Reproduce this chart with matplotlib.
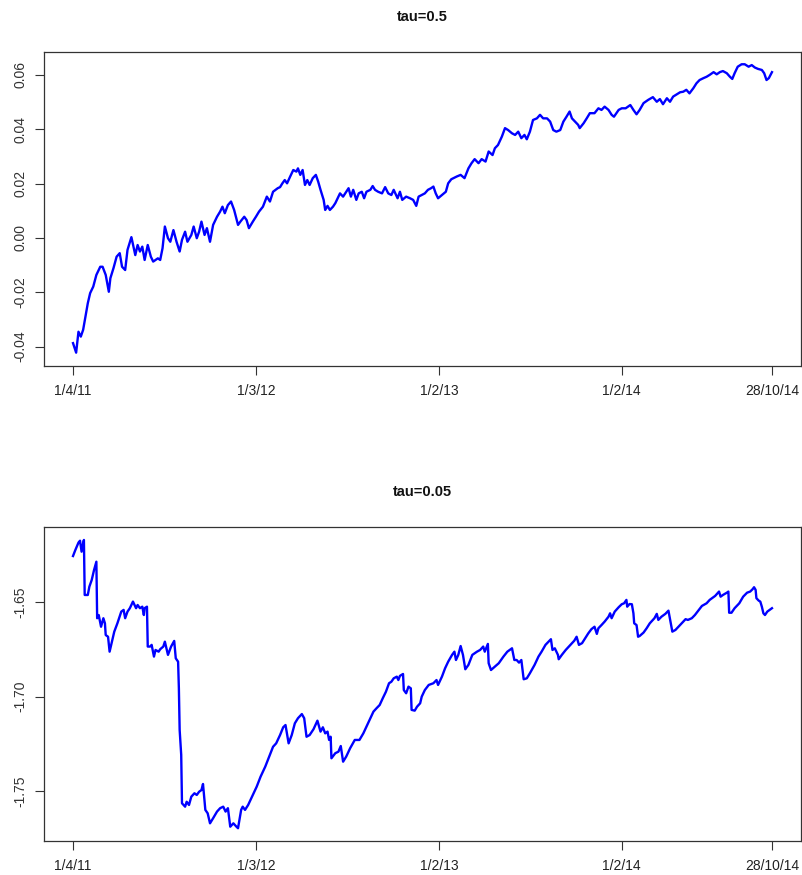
import matplotlib
matplotlib.use("Agg")
import matplotlib.pyplot as plt

plt.rcParams['font.family'] = ['Liberation Sans', 'DejaVu Sans']

# ---- data (trading-day index, value) ----
tick_idx = [0, 235, 470, 705, 898]
tick_labels = ["1/4/11", "1/3/12", "1/2/13", "1/2/14", "28/10/14"]

top_title = "tau=0.5"
top_yticks = [-0.04, -0.02, 0.00, 0.02, 0.04, 0.06]
top_ylabels = ["-0.04", "-0.02", "0.00", "0.02", "0.04", "0.06"]

top_idx = [
    0, 4, 7, 10, 13, 16, 19, 22, 26, 30,
    35, 38, 42, 46, 48, 52, 56, 60, 63, 67,
    70, 75, 80, 83, 86, 89, 92, 96, 100, 103,
    109, 112, 115, 118, 122, 125, 129, 133, 137, 140,
    144, 147, 152, 155, 159, 162, 165, 169, 172, 176,
    180, 185, 189, 192, 195, 199, 203, 207, 212, 215,
    220, 223, 226, 231, 235, 239, 244, 249, 253, 257,
    263, 266, 269, 272, 275, 279, 283, 287, 289, 292,
    295, 298, 301, 304, 308, 312, 315, 318, 322, 324,
    327, 330, 334, 337, 340, 343, 347, 351, 354, 357,
    360, 364, 367, 371, 374, 377, 382, 385, 388, 392,
    397, 401, 405, 409, 412, 417, 420, 423, 428, 433,
    437, 441, 444, 448, 452, 456, 460, 463, 466, 469,
    474, 479, 482, 486, 493, 498, 503, 508, 512, 516,
    521, 525, 530, 534, 539, 542, 546, 551, 555, 559,
    564, 568, 572, 576, 580, 583, 587, 591, 596, 600,
    604, 609, 613, 617, 621, 626, 630, 634, 638, 641,
    645, 649, 651, 656, 660, 664, 670, 675, 679, 683,
    688, 692, 695, 701, 705, 710, 716, 720, 724, 728,
    733, 739, 745, 750, 754, 758, 763, 767, 771, 776,
    780, 784, 788, 792, 797, 801, 805, 810, 814, 818,
    823, 827, 831, 835, 840, 844, 847, 850, 854, 859,
    863, 868, 872, 876, 880, 885, 888, 891, 894, 898,
]
top_val = [
    -0.0387, -0.0422, -0.0345, -0.0363, -0.0338, -0.0290, -0.0240, -0.0203, -0.0179, -0.0136,
    -0.0106, -0.0106, -0.0136, -0.0198, -0.0148, -0.0111, -0.0069, -0.0056, -0.0106, -0.0118,
    -0.0044, 0.0003, -0.0063, -0.0026, -0.0050, -0.0032, -0.0081, -0.0026, -0.0069, -0.0087,
    -0.0075, -0.0081, -0.0038, 0.0042, -0.0001, -0.0014, 0.0029, -0.0014, -0.0050, -0.0007,
    0.0023, -0.0014, 0.0011, 0.0042, -0.0001, 0.0023, 0.0060, 0.0011, 0.0036, -0.0014,
    0.0048, 0.0078, 0.0097, 0.0115, 0.0091, 0.0121, 0.0134, 0.0103, 0.0048, 0.0060,
    0.0078, 0.0066, 0.0036, 0.0060, 0.0078, 0.0097, 0.0115, 0.0152, 0.0134, 0.0170,
    0.0183, 0.0187, 0.0201, 0.0213, 0.0201, 0.0226, 0.0250, 0.0244, 0.0256, 0.0232,
    0.0250, 0.0195, 0.0213, 0.0195, 0.0220, 0.0232, 0.0207, 0.0177, 0.0140, 0.0103,
    0.0118, 0.0103, 0.0115, 0.0128, 0.0146, 0.0164, 0.0152, 0.0170, 0.0183, 0.0152,
    0.0177, 0.0140, 0.0164, 0.0170, 0.0146, 0.0170, 0.0177, 0.0191, 0.0177, 0.0170,
    0.0164, 0.0187, 0.0164, 0.0158, 0.0177, 0.0146, 0.0170, 0.0140, 0.0152, 0.0146,
    0.0140, 0.0118, 0.0152, 0.0158, 0.0164, 0.0177, 0.0183, 0.0189, 0.0164, 0.0146,
    0.0158, 0.0170, 0.0201, 0.0216, 0.0226, 0.0232, 0.0220, 0.0256, 0.0275, 0.0290,
    0.0275, 0.0290, 0.0281, 0.0318, 0.0305, 0.0330, 0.0342, 0.0373, 0.0404, 0.0397,
    0.0385, 0.0379, 0.0391, 0.0367, 0.0379, 0.0363, 0.0391, 0.0434, 0.0440, 0.0453,
    0.0440, 0.0440, 0.0428, 0.0397, 0.0391, 0.0397, 0.0428, 0.0446, 0.0465, 0.0440,
    0.0428, 0.0416, 0.0404, 0.0422, 0.0440, 0.0459, 0.0459, 0.0477, 0.0471, 0.0483,
    0.0471, 0.0453, 0.0446, 0.0471, 0.0477, 0.0477, 0.0489, 0.0471, 0.0455, 0.0471,
    0.0496, 0.0508, 0.0518, 0.0501, 0.0511, 0.0492, 0.0514, 0.0501, 0.0520, 0.0529,
    0.0536, 0.0538, 0.0545, 0.0532, 0.0551, 0.0569, 0.0581, 0.0588, 0.0593, 0.0600,
    0.0610, 0.0602, 0.0610, 0.0614, 0.0606, 0.0593, 0.0585, 0.0606, 0.0630, 0.0639,
    0.0639, 0.0630, 0.0636, 0.0627, 0.0622, 0.0618, 0.0606, 0.0581, 0.0588, 0.0610,
]

bot_title = "tau=0.05"
bot_yticks = [-1.75, -1.70, -1.65]
bot_ylabels = ["-1.75", "-1.70", "-1.65"]

bot_idx = [
    0, 3, 7, 9, 11, 13, 14, 15, 19, 21,
    24, 27, 30, 31, 33, 36, 39, 41, 42, 45,
    47, 50, 53, 57, 62, 65, 67, 70, 73, 77,
    81, 83, 86, 89, 91, 92, 95, 96, 99, 101,
    104, 106, 110, 112, 116, 118, 122, 126, 130, 132,
    135, 136, 137, 139, 140, 144, 146, 149, 152, 156,
    159, 162, 165, 167, 170, 173, 176, 180, 185, 189,
    193, 196, 199, 202, 206, 210, 212, 216, 218, 221,
    225, 231, 236, 241, 247, 252, 257, 261, 266, 270,
    273, 277, 281, 285, 289, 294, 297, 300, 304, 309,
    314, 316, 318, 321, 324, 327, 329, 331, 332, 337,
    341, 344, 347, 351, 356, 362, 368, 373, 377, 382,
    386, 390, 394, 398, 402, 406, 409, 412, 416, 418,
    420, 424, 425, 428, 431, 434, 435, 439, 442, 446,
    448, 452, 457, 463, 467, 469, 474, 478, 482, 487,
    490, 492, 495, 498, 501, 504, 508, 513, 519, 523,
    527, 529, 533, 534, 537, 542, 547, 553, 558, 564,
    567, 570, 573, 576, 579, 583, 587, 593, 598, 602,
    607, 611, 614, 616, 619, 623, 624, 628, 633, 639,
    644, 647, 650, 654, 658, 662, 666, 670, 673, 675,
    679, 683, 688, 690, 692, 696, 701, 705, 708, 711,
    712, 715, 718, 720, 721, 724, 726, 728, 733, 737,
    741, 747, 750, 752, 756, 761, 765, 767, 770, 774,
    780, 784, 787, 790, 795, 799, 804, 808, 814, 818,
    821, 825, 828, 830, 832, 835, 840, 842, 843, 846,
    850, 856, 861, 866, 870, 873, 875, 877, 878, 881,
    883, 885, 887, 889, 892, 898,
]
bot_val = [
    -1.6256, -1.6224, -1.6185, -1.6175, -1.6233, -1.6188, -1.6171, -1.6462, -1.6462, -1.6418,
    -1.6383, -1.6330, -1.6286, -1.6585, -1.6568, -1.6630, -1.6585, -1.6612, -1.6674, -1.6683,
    -1.6762, -1.6709, -1.6656, -1.6612, -1.6550, -1.6541, -1.6585, -1.6550, -1.6532, -1.6497,
    -1.6532, -1.6515, -1.6532, -1.6524, -1.6568, -1.6532, -1.6524, -1.6735, -1.6735, -1.6726,
    -1.6788, -1.6753, -1.6762, -1.6749, -1.6735, -1.6709, -1.6779, -1.6735, -1.6705, -1.6797,
    -1.6815, -1.6956, -1.7176, -1.7308, -1.7564, -1.7582, -1.7556, -1.7573, -1.7529, -1.7511,
    -1.7520, -1.7503, -1.7494, -1.7462, -1.7599, -1.7617, -1.7670, -1.7643, -1.7608, -1.7590,
    -1.7582, -1.7608, -1.7590, -1.7688, -1.7670, -1.7688, -1.7696, -1.7599, -1.7582, -1.7599,
    -1.7573, -1.7520, -1.7476, -1.7423, -1.7370, -1.7317, -1.7265, -1.7247, -1.7203, -1.7162,
    -1.7150, -1.7247, -1.7203, -1.7141, -1.7114, -1.7092, -1.7114, -1.7212, -1.7203, -1.7172,
    -1.7127, -1.7155, -1.7185, -1.7162, -1.7194, -1.7185, -1.7229, -1.7212, -1.7326, -1.7299,
    -1.7291, -1.7261, -1.7344, -1.7317, -1.7273, -1.7229, -1.7229, -1.7194, -1.7159, -1.7114,
    -1.7079, -1.7061, -1.7044, -1.7008, -1.6974, -1.6929, -1.6921, -1.6903, -1.6894, -1.6912,
    -1.6890, -1.6880, -1.6965, -1.6982, -1.6947, -1.6956, -1.7070, -1.7074, -1.7053, -1.7035,
    -1.7000, -1.6965, -1.6938, -1.6929, -1.6912, -1.6938, -1.6894, -1.6850, -1.6815, -1.6779,
    -1.6762, -1.6806, -1.6779, -1.6732, -1.6779, -1.6855, -1.6832, -1.6779, -1.6762, -1.6753,
    -1.6735, -1.6762, -1.6721, -1.6823, -1.6859, -1.6841, -1.6823, -1.6788, -1.6762, -1.6744,
    -1.6806, -1.6806, -1.6820, -1.6806, -1.6908, -1.6903, -1.6876, -1.6832, -1.6788, -1.6762,
    -1.6726, -1.6709, -1.6696, -1.6753, -1.6744, -1.6779, -1.6802, -1.6779, -1.6753, -1.6726,
    -1.6704, -1.6683, -1.6726, -1.6717, -1.6691, -1.6665, -1.6643, -1.6630, -1.6668, -1.6638,
    -1.6621, -1.6603, -1.6577, -1.6559, -1.6585, -1.6550, -1.6527, -1.6511, -1.6506, -1.6488,
    -1.6524, -1.6510, -1.6511, -1.6559, -1.6612, -1.6621, -1.6683, -1.6679, -1.6661, -1.6638,
    -1.6612, -1.6585, -1.6562, -1.6594, -1.6577, -1.6562, -1.6545, -1.6590, -1.6656, -1.6647,
    -1.6621, -1.6603, -1.6590, -1.6594, -1.6585, -1.6568, -1.6541, -1.6520, -1.6506, -1.6488,
    -1.6479, -1.6467, -1.6453, -1.6444, -1.6471, -1.6462, -1.6450, -1.6444, -1.6556, -1.6556,
    -1.6532, -1.6506, -1.6471, -1.6450, -1.6444, -1.6432, -1.6421, -1.6435, -1.6479, -1.6492,
    -1.6497, -1.6524, -1.6559, -1.6568, -1.6550, -1.6532,
]

# ---- figure ----
W, H = 802, 875
fig = plt.figure(figsize=(W / 100, H / 100), dpi=100)
fig.patch.set_facecolor("white")

ax_left = 44.3 / W
ax_w = (801 - 44.3) / W
ax_h = (365.7 - 52.3) / H
ax1 = fig.add_axes([ax_left, 1 - 365.7 / H, ax_w, ax_h])
ax2 = fig.add_axes([ax_left, 1 - 840.7 / H, ax_w, ax_h])

panels = [
    (ax1, top_idx, top_val, top_yticks, top_ylabels, (-0.0470, 0.0683), top_title, 17),
    (ax2, bot_idx, bot_val, bot_yticks, bot_ylabels, (-1.7762, -1.6104), bot_title, 492),
]

for ax, xs, ys, yt, yl, ylim, title, ty in panels:
    ax.plot(xs, ys, color="#0000ff", lw=1.7, solid_joinstyle="round")
    ax.set_xlim(-36.9, 935.3)
    ax.set_ylim(*ylim)
    ax.set_xticks(tick_idx)
    ax.set_xticklabels(tick_labels, fontsize=10, color="#222222")
    ax.set_yticks(yt)
    ax.set_yticklabels(yl, fontsize=10, color="#333333", rotation=90, va="center")
    ax.tick_params(axis="x", length=6.5, width=0.8, pad=6.5, color="#333333")
    ax.tick_params(axis="y", length=6.5, width=0.8, pad=5.5, color="#333333")
    for s in ax.spines.values():
        s.set_color("#333333")
        s.set_linewidth(0.9)
    fig.text((44.3 + 801) / 2 / W, 1 - ty / H, title, ha="center", va="center",
             fontsize=10.5, fontweight="bold", color="#111111")

fig.savefig("out.png", dpi=100, facecolor="white")
